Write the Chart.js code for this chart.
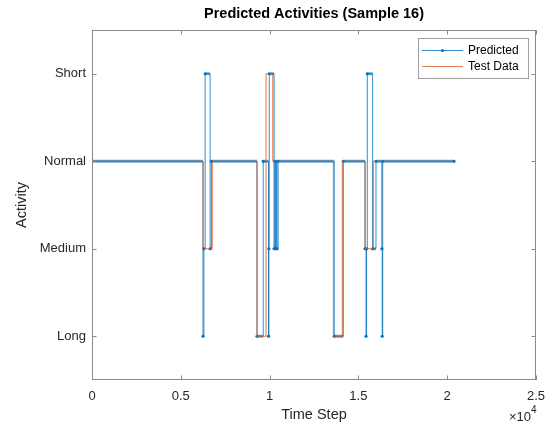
<!DOCTYPE html>
<html><head><meta charset="utf-8">
<script src="https://cdn.jsdelivr.net/npm/chart.js@4.4.0/dist/chart.umd.min.js"></script>
<style>html,body{margin:0;padding:0;background:#fff;}#wrap{width:550px;height:424px;}</style>
</head><body><div id="wrap"><canvas id="c" width="550" height="424"></canvas></div>
<script>
// ---- data ----
const activityLabels = ['Long', 'Medium', 'Normal', 'Short'];
const activityValues = [1, 2, 3, 4];
const xTickValues = [0, 5000, 10000, 15000, 20000, 25000];
const xTickLabels = ['0', '0.5', '1', '1.5', '2', '2.5'];
// change points: time step where the activity switches, and the new activity level
const predTime  = [0, 6250, 6300, 6370, 6650, 6720, 9291, 9640, 9940, 9960, 9980, 10250, 10290, 10330, 10380, 10420, 10480, 13640, 14150, 15373, 15430, 15460, 15500, 15800, 15990, 16320, 16340, 16370, 20385];
const predLevel = [3,    1,    2,    4,    2,    3,    1,    3,    1,    2,    4,     2,     3,     2,     3,     2,     3,     1,     3,     2,     1,     2,     4,     2,     3,     2,     1,     3,     3];
const testTime  = [0, 6250, 6770, 9291, 9800, 10180, 13590, 14095, 15373, 15840, 20385];
const testLevel = [3,    2,    3,    1,    4,     3,     1,     3,     2,     3,     3];

const predPoints = predTime.map((t, i) => ({x: t, y: predLevel[i]}));
const testPoints = testTime.map((t, i) => ({x: t, y: testLevel[i]}));
// plateau segments (dense markers make plateaus look thicker)
const predPlateaus = [];
for (let i = 0; i < predTime.length - 1; i++) {
  predPlateaus.push({x: predTime[i], y: predLevel[i]});
  predPlateaus.push({x: predTime[i + 1], y: predLevel[i]});
  predPlateaus.push({x: predTime[i + 1], y: null});
}

const AX = '#262626';
const font = 'Liberation Sans, Arial, Helvetica, sans-serif';

const decor = {
  id: 'decor',
  afterDraw(chart) {
    const ctx = chart.ctx, a = chart.chartArea;
    const xs = chart.scales.x, ys = chart.scales.y;
    ctx.save();
    // box
    ctx.strokeStyle = '#8a8a8a';
    ctx.lineWidth = 1;
    ctx.strokeRect(Math.round(a.left) + 0.5, Math.round(a.top) + 0.5, Math.round(a.right - a.left) - 1, Math.round(a.bottom - a.top) - 1);
    // inward ticks
    const L = 4.5;
    ctx.beginPath();
    xTickValues.forEach(v => {
      const p = Math.round(xs.getPixelForValue(v)) + 0.5;
      ctx.moveTo(p, a.bottom); ctx.lineTo(p, a.bottom - L);
      ctx.moveTo(p, a.top); ctx.lineTo(p, a.top + L);
    });
    activityValues.forEach(v => {
      const p = Math.round(ys.getPixelForValue(v)) + 0.5;
      ctx.moveTo(a.left, p); ctx.lineTo(a.left + L, p);
      ctx.moveTo(a.right, p); ctx.lineTo(a.right - L, p);
    });
    ctx.stroke();
    // title
    ctx.fillStyle = '#000';
    ctx.font = 'bold 14.5px ' + font;
    ctx.textAlign = 'center'; ctx.textBaseline = 'middle';
    ctx.fillText('Predicted Activities (Sample 16)', (a.left + a.right) / 2, 14);
    // exponent
    ctx.fillStyle = AX;
    ctx.font = '13px ' + font;
    ctx.textAlign = 'right'; ctx.textBaseline = 'alphabetic';
    ctx.fillText('\u00d710', a.right - 5, 421);
    ctx.font = '10px ' + font;
    ctx.textAlign = 'left';
    ctx.fillText('4', a.right - 5, 413);
    // legend
    const lx = 418.5, ly = 38.5, lw = 110, lh = 40;
    ctx.fillStyle = '#fff';
    ctx.fillRect(lx, ly, lw, lh);
    ctx.strokeStyle = '#a0a0a0';
    ctx.strokeRect(lx, ly, lw, lh);
    ctx.lineWidth = 1;
    ctx.strokeStyle = 'rgba(0,114,189,0.8)';
    ctx.beginPath(); ctx.moveTo(422, 50.5); ctx.lineTo(463, 50.5); ctx.stroke();
    ctx.fillStyle = '#0072BD';
    ctx.beginPath(); ctx.arc(442.5, 50.5, 1.6, 0, Math.PI * 2); ctx.fill();
    ctx.strokeStyle = 'rgba(217,83,25,0.75)';
    ctx.beginPath(); ctx.moveTo(422, 66.5); ctx.lineTo(463, 66.5); ctx.stroke();
    ctx.fillStyle = '#000';
    ctx.font = '12px ' + font;
    ctx.textAlign = 'left'; ctx.textBaseline = 'middle';
    ctx.fillText('Predicted', 468, 51);
    ctx.fillText('Test Data', 468, 67);
    ctx.restore();
  }
};

new Chart(document.getElementById('c'), {
  type: 'line',
  data: {
    datasets: [
      {label: 'Test Data', data: testPoints, stepped: true, borderColor: 'rgba(217,83,25,0.8)', borderWidth: 1, pointRadius: 0, order: 0},
      {label: 'Predicted', data: predPoints, stepped: true, borderColor: 'rgba(0,114,189,0.8)', borderWidth: 1,
       pointRadius: 1.6, pointBackgroundColor: '#0072BD', pointBorderWidth: 0, order: 1},
      {label: 'PredictedPlateau', data: predPlateaus, borderColor: 'rgba(0,114,189,0.6)', borderWidth: 3,
       pointRadius: 0, spanGaps: false, order: 2}
    ]
  },
  options: {
    responsive: false,
    animation: false,
    devicePixelRatio: 1,
    layout: {padding: {top: 30, right: 14, bottom: 0, left: 0}},
    plugins: {legend: {display: false}, title: {display: false}, tooltip: {enabled: false}},
    scales: {
      x: {
        type: 'linear', min: 0, max: 25000,
        afterBuildTicks: s => { s.ticks = xTickValues.map(v => ({value: v})); },
        afterFit: s => { s.height = 44; s.paddingLeft = 0; s.paddingRight = 0; },
        grid: {display: false, drawTicks: false},
        border: {display: false},
        ticks: {padding: 8.5, color: AX, font: {family: font, size: 13}, maxRotation: 0,
                callback: v => xTickLabels[xTickValues.indexOf(v)]},
        title: {display: true, text: 'Time Step', color: AX, font: {family: font, size: 14.5}, padding: {top: 3.8, bottom: 0}}
      },
      y: {
        type: 'linear', min: 0.5, max: 4.5,
        afterBuildTicks: s => { s.ticks = activityValues.map(v => ({value: v})); },
        afterFit: s => { s.width = 92; s.paddingTop = 0; s.paddingBottom = 0; },
        grid: {display: false, drawTicks: false},
        border: {display: false},
        ticks: {padding: 6, color: AX, font: {family: font, size: 13},
                callback: v => activityLabels[activityValues.indexOf(v)]},
        title: {display: true, text: 'Activity', color: AX, font: {family: font, size: 14.5}, padding: {top: 13.3, bottom: 0}}
      }
    }
  },
  plugins: [decor]
});
</script>
</body></html>
